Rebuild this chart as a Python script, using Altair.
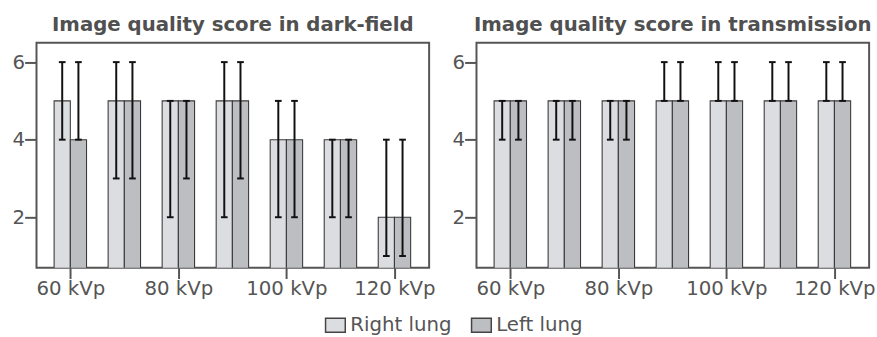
import altair as alt
import pandas as pd

kvp = [60, 70, 80, 90, 100, 110, 120]
lungs = ["Right lung", "Left lung"]

# dark-field
df_right = [5, 5, 5, 5, 4, 4, 2]
df_right_lo = [4, 3, 2, 2, 2, 2, 1]
df_right_hi = [6, 6, 5, 6, 5, 4, 4]
df_left = [4, 5, 5, 5, 4, 4, 2]
df_left_lo = [4, 3, 3, 3, 2, 2, 1]
df_left_hi = [6, 6, 5, 6, 5, 4, 4]

# transmission
tr_right = [5, 5, 5, 5, 5, 5, 5]
tr_right_lo = [4, 4, 4, 5, 5, 5, 5]
tr_right_hi = [5, 5, 5, 6, 6, 6, 6]
tr_left = [5, 5, 5, 5, 5, 5, 5]
tr_left_lo = [4, 4, 4, 5, 5, 5, 5]
tr_left_hi = [5, 5, 5, 6, 6, 6, 6]

titles = ["Image quality score in dark-field", "Image quality score in transmission"]

rows = []
for panel, sets in [
    ("df", [("Right lung", df_right, df_right_lo, df_right_hi), ("Left lung", df_left, df_left_lo, df_left_hi)]),
    ("tr", [("Right lung", tr_right, tr_right_lo, tr_right_hi), ("Left lung", tr_left, tr_left_lo, tr_left_hi)]),
]:
    for lung, vals, los, his in sets:
        for k, v, lo, hi in zip(kvp, vals, los, his):
            rows.append({"panel": panel, "kvp": k, "lung": lung, "score": v, "lo": lo, "hi": hi})
data = pd.DataFrame(rows)

BW = 3.0     # bar width in kVp units
CAP = 0.62   # half cap width in kVp units
FONT = "DejaVu Sans"
TXT = "#555555"

xscale = alt.Scale(domain=[53.74, 126.42], nice=False, zero=False)
yscale = alt.Scale(domain=[0.7, 6.5], nice=False, zero=False)
color = alt.Color("lung:N", scale=alt.Scale(domain=lungs, range=["#dcdde0", "#bdbec1"]),
                  legend=alt.Legend(title=None, orient="none", direction="horizontal",
                                    legendX=292, legendY=275,
                                    symbolType="M-1,-0.72L1,-0.72L1,0.72L-1,0.72Z",
                                    symbolSize=400, symbolStrokeColor="#444444",
                                    symbolStrokeWidth=1.5, symbolOpacity=1,
                                    labelFontSize=20, labelFont=FONT, labelColor=TXT,
                                    labelOffset=4, columnPadding=17, padding=0))

xaxis = alt.Axis(values=[60, 80, 100, 120], labelExpr="datum.value + ' kVp'", title=None,
                 domain=False, grid=False, tickSize=11, tickWidth=2, tickColor=TXT,
                 labelPadding=0, labelFontSize=20, labelFont=FONT, labelColor=TXT,
                 labelFlush=False, labelOverlap=False)
yaxis = alt.Axis(values=[2, 4, 6], title=None, domain=False, grid=False, tickSize=12,
                 tickWidth=2, tickColor=TXT, labelPadding=0, labelFontSize=20,
                 labelFont=FONT, labelColor=TXT)


def panel(key, title):
    base = alt.Chart(data).transform_filter(alt.datum.panel == key).transform_calculate(
        xs="datum.kvp - (datum.lung == 'Right lung' ? %f : 0)" % BW
    ).transform_calculate(
        xe="datum.xs + %f" % BW,
        xc="datum.xs + %f" % (BW / 2),
    ).transform_calculate(
        cl="datum.xc - %f" % CAP,
        cr="datum.xc + %f" % CAP,
        y0="0",
    )
    bars = base.mark_bar(stroke="#3a3a3a", strokeWidth=1.1, clip=True).encode(
        x=alt.X("xs:Q", scale=xscale, axis=xaxis),
        x2="xe:Q",
        y=alt.Y("score:Q", scale=yscale, axis=yaxis),
        y2="y0:Q",
        color=color,
    )
    err = base.mark_rule(color="#111111", strokeWidth=2).encode(
        x="xc:Q", y="lo:Q", y2="hi:Q")
    cap_lo = base.mark_rule(color="#111111", strokeWidth=2).encode(
        x="cl:Q", x2="cr:Q", y="lo:Q")
    cap_hi = base.mark_rule(color="#111111", strokeWidth=2).encode(
        x="cl:Q", x2="cr:Q", y="hi:Q")
    return alt.layer(bars, err, cap_lo, cap_hi).properties(
        width=398, height=228,
        title=alt.TitleParams(title, fontSize=20, font=FONT, fontWeight="bold",
                              color="#505050", offset=8, anchor="middle"),
    )


chart = alt.hconcat(panel("df", titles[0]), panel("tr", titles[1]), spacing=14).configure(
    padding={"left": 11, "top": 12, "right": 0, "bottom": 0},
    background="white",
).configure_view(
    stroke="#555555", strokeWidth=2
)

chart.save("out.html", embed_options={"renderer": "svg", "actions": False})
